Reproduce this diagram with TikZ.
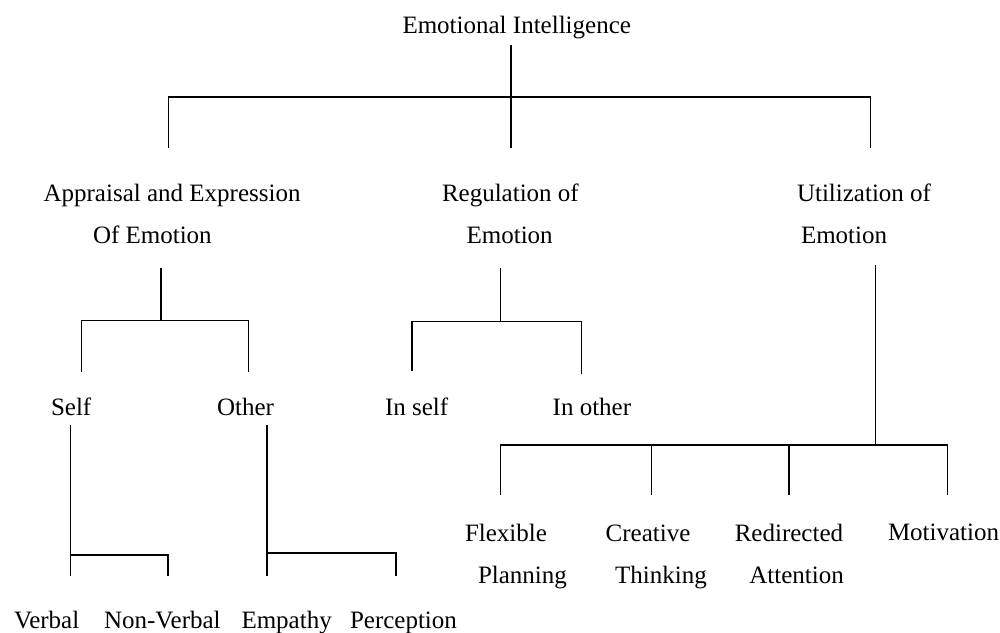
\documentclass[tikz,border=0pt]{standalone}
\usepackage{fontspec}
\setmainfont{Liberation Serif}
\begin{document}
\begin{tikzpicture}[x=0.5pt,y=-0.5pt,
  lbl/.style={inner sep=0pt, outer sep=0pt, font=\fontsize{12.5}{21}\selectfont, align=left, anchor=base west},
  conn/.style={line width=0.6pt, black}]
\useasboundingbox (0,0) rectangle (1000,632);
% labels (multi-line nodes are placed by the baseline of their last line)
\node[lbl] (ei) at (402.5,33) {Emotional Intelligence};
\node[lbl] (app) at (43.6,243) {Appraisal and Expression\\\hspace*{24.7pt}Of Emotion};
\node[lbl] (reg) at (442,243) {Regulation of\\\hspace*{12.3pt}Emotion};
\node[lbl] (uti) at (797,243) {Utilization of\\\hspace*{2pt}Emotion};
\node[lbl] (self) at (51,415) {Self};
\node[lbl] (other) at (217,415) {Other};
\node[lbl] (inself) at (385,415) {In self};
\node[lbl] (inother) at (552.7,415) {In other};
\node[lbl] (flex) at (465,583) {Flexible\\\hspace*{6.5pt}Planning};
\node[lbl] (crea) at (605.7,583) {Creative\\\hspace*{4.7pt}Thinking};
\node[lbl] (redi) at (734.8,583) {Redirected\\\hspace*{7.3pt}Attention};
\node[lbl] (moti) at (888,540) {Motivation};
\node[lbl] (verbal) at (14,628) {Verbal};
\node[lbl] (nonverbal) at (104,628) {Non-Verbal};
\node[lbl] (empathy) at (241.5,628) {Empathy};
\node[lbl] (perception) at (350,628) {Perception};
% junction coordinates
\coordinate (eiS) at (511,45);
\coordinate (eiJ) at (511,97);
\coordinate (h1L) at (168.6,97);
\coordinate (h1R) at (870.5,97);
\coordinate (appT) at (168.6,148);
\coordinate (regT) at (511,148);
\coordinate (utiT) at (870.5,148);
\coordinate (appS) at (161,268);
\coordinate (appJ) at (161,320.7);
\coordinate (h2L) at (81.8,320.7);
\coordinate (h2R) at (248.6,320.7);
\coordinate (selfT) at (81.8,371.7);
\coordinate (otherT) at (248.6,371.7);
\coordinate (regS) at (500.3,268);
\coordinate (regJ) at (500.3,321.5);
\coordinate (h3L) at (412,321.5);
\coordinate (h3R) at (581.5,321.5);
\coordinate (inselfT) at (412,370.7);
\coordinate (inotherT) at (581.5,374);
\coordinate (utiS) at (875.4,265);
\coordinate (utiJ) at (875.4,445);
\coordinate (h4L) at (500.3,445);
\coordinate (h4R) at (947.6,445);
\coordinate (flexT) at (500.3,495);
\coordinate (creaT) at (651.8,495);
\coordinate (rediT) at (789,495);
\coordinate (motiT) at (947.6,495);
\coordinate (selfS) at (70.3,425);
\coordinate (h5R) at (168,555);
\coordinate (verbalT) at (70.3,576);
\coordinate (nonverbalT) at (168,576);
\coordinate (otherS) at (267,425);
\coordinate (h6R) at (396,553);
\coordinate (empathyT) at (267,576);
\coordinate (perceptionT) at (396,576);
% connectors
\draw[conn] (eiS) -- (eiJ);
\draw[conn] (appT) -- (h1L) -- (h1R) -- (utiT);
\draw[conn] (eiJ) -- (regT);
\draw[conn] (appS) -- (appJ);
\draw[conn] (selfT) -- (h2L) -- (h2R) -- (otherT);
\draw[conn] (regS) -- (regJ);
\draw[conn] (inselfT) -- (h3L) -- (h3R) -- (inotherT);
\draw[conn] (utiS) -- (utiJ);
\draw[conn] (flexT) -- (h4L) -- (h4R) -- (motiT);
\draw[conn] (creaT) -- (creaT |- h4L);
\draw[conn] (rediT) -- (rediT |- h4L);
\draw[conn] (selfS) -- (verbalT);
\draw[conn] (selfS |- h5R) -- (h5R) -- (nonverbalT);
\draw[conn] (otherS) -- (empathyT);
\draw[conn] (otherS |- h6R) -- (h6R) -- (perceptionT);
\end{tikzpicture}
\end{document}
